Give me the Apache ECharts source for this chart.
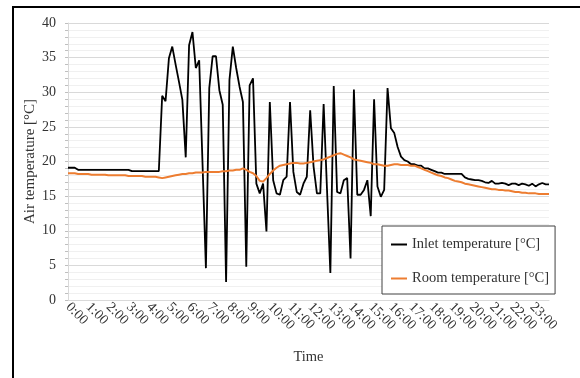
<!DOCTYPE html>
<html>
<head>
<meta charset="utf-8">
<script src="https://cdn.jsdelivr.net/npm/echarts@6/dist/echarts.min.js"></script>
<style>
  html, body { margin: 0; padding: 0; background: #fff; }
  #chart { width: 580px; height: 378px; }
</style>
</head>
<body>
<div id="chart"></div>
<script>
// 10-minute readings over one day
const hours = Array.from({ length: 24 }, (_, h) => h);
const minutes = ['00', '10', '20', '30', '40', '50'];
const times = [];
hours.forEach(h => minutes.forEach(m => times.push(h + ':' + m)));

const inletTemp = [
  19.1, 19.1, 19.1, 18.8, 18.8, 18.8, 18.8, 18.8, 18.8, 18.8,
  18.8, 18.8, 18.8, 18.8, 18.8, 18.8, 18.8, 18.8, 18.8, 18.6,
  18.6, 18.6, 18.6, 18.6, 18.6, 18.6, 18.6, 18.6, 29.5, 28.7,
  34.9, 36.6, 34.0, 31.5, 28.9, 20.6, 36.8, 38.7, 33.5, 34.6,
  19.6, 4.6, 30.6, 35.2, 35.2, 30.3, 28.2, 2.6, 31.8, 36.6,
  33.5, 30.8, 28.6, 4.8, 31.0, 32.0, 16.8, 15.4, 16.8, 9.9,
  28.6, 17.3, 15.4, 15.2, 17.3, 17.8, 28.6, 18.5, 15.6, 15.2,
  16.8, 17.8, 27.4, 19.3, 15.4, 15.4, 28.3, 16.0, 3.9, 30.9,
  15.6, 15.4, 17.3, 17.6, 6.0, 30.4, 15.2, 15.2, 15.9, 17.3,
  12.1, 29.0, 16.4, 14.9, 15.9, 30.6, 24.8, 24.1, 22.1, 20.7,
  20.2, 20.0, 19.6, 19.6, 19.4, 19.4, 19.0, 19.0, 18.8, 18.6,
  18.4, 18.4, 18.2, 18.2, 18.2, 18.2, 18.2, 18.2, 17.7, 17.5,
  17.4, 17.3, 17.3, 17.2, 17.0, 16.9, 17.2, 16.8, 16.8, 16.9,
  16.8, 16.6, 16.8, 16.8, 16.6, 16.8, 16.7, 16.5, 16.8, 16.4,
  16.7, 16.9, 16.7, 16.7
];

const roomTemp = [
  18.3, 18.3, 18.3, 18.2, 18.2, 18.2, 18.2, 18.1, 18.1, 18.1,
  18.1, 18.1, 18.0, 18.0, 18.0, 18.0, 18.0, 18.0, 17.9, 17.9,
  17.9, 17.9, 17.9, 17.8, 17.8, 17.8, 17.8, 17.7, 17.6, 17.7,
  17.8, 17.9, 18.0, 18.1, 18.2, 18.2, 18.3, 18.3, 18.4, 18.4,
  18.4, 18.5, 18.5, 18.5, 18.5, 18.5, 18.6, 18.6, 18.7, 18.7,
  18.8, 18.8, 19.0, 18.8, 18.5, 18.3, 17.9, 17.2, 17.1, 17.6,
  18.2, 18.7, 19.1, 19.4, 19.5, 19.6, 19.7, 19.8, 19.8, 19.7,
  19.7, 19.8, 19.9, 20.0, 20.1, 20.2, 20.3, 20.5, 20.7, 20.9,
  21.1, 21.2, 21.0, 20.8, 20.6, 20.3, 20.2, 20.1, 20.0, 19.9,
  19.8, 19.6, 19.6, 19.5, 19.4, 19.4, 19.5, 19.6, 19.6, 19.5,
  19.5, 19.5, 19.4, 19.4, 19.2, 19.0, 18.8, 18.6, 18.4, 18.2,
  18.0, 17.9, 17.7, 17.6, 17.4, 17.2, 17.1, 17.0, 16.8, 16.7,
  16.6, 16.5, 16.4, 16.3, 16.2, 16.1, 16.0, 16.0, 15.9, 15.9,
  15.8, 15.8, 15.7, 15.6, 15.6, 15.5, 15.5, 15.4, 15.4, 15.4,
  15.3, 15.3, 15.3, 15.3
];

const FONT = '"Liberation Serif", serif';
const TEXT = '#333';

const chart = echarts.init(document.getElementById('chart'));

chart.setOption({
  animation: false,
  backgroundColor: '#fff',
  textStyle: { fontFamily: FONT },
  graphic: [{
    type: 'rect',
    shape: { x: 13, y: 7, width: 620, height: 420 },
    style: { fill: 'none', stroke: '#000', lineWidth: 2 },
    silent: true
  }],
  grid: { left: 68, right: 31, top: 23, bottom: 78 },
  legend: {
    orient: 'vertical',
    left: 382,
    top: 226,
    padding: [11, 6, 8, 9],
    itemGap: 19,
    itemWidth: 16,
    itemHeight: 2,
    icon: 'rect',
    backgroundColor: '#fff',
    borderColor: '#404040',
    borderWidth: 1,
    borderRadius: 0,
    textStyle: { fontFamily: FONT, fontSize: 14.5, color: TEXT },
    data: ['Inlet temperature [°C]', 'Room temperature [°C]']
  },
  xAxis: {
    type: 'category',
    data: times,
    boundaryGap: false,
    name: 'Time',
    nameLocation: 'middle',
    nameGap: 50,
    nameTextStyle: { fontFamily: FONT, fontSize: 14.5, color: TEXT },
    axisLine: { lineStyle: { color: '#d9d9d9', width: 1 } },
    axisTick: { show: false },
    axisLabel: {
      interval: 5,
      rotate: -45,
      margin: 5,
      fontFamily: FONT,
      fontSize: 14,
      color: TEXT
    },
    splitLine: { show: false }
  },
  yAxis: {
    type: 'value',
    min: 0,
    max: 40,
    interval: 5,
    name: 'Air temperature [°C]',
    nameLocation: 'middle',
    nameRotate: 90,
    nameGap: 30,
    nameMoveOverlap: false,
    nameTextStyle: { fontFamily: FONT, fontSize: 15, color: TEXT },
    axisLine: { show: true, lineStyle: { color: '#d9d9d9' } },
    axisTick: { show: true, length: 3, lineStyle: { color: '#bfbfbf' } },
    minorTick: { show: true, splitNumber: 5, length: 3, lineStyle: { color: '#bfbfbf' } },
    axisLabel: { margin: 12, fontFamily: FONT, fontSize: 14, color: TEXT },
    splitLine: { lineStyle: { color: '#d9d9d9', width: 1 } },
    minorSplitLine: { show: true, lineStyle: { color: '#f0f0f0', width: 1 } }
  },
  series: [
    {
      name: 'Inlet temperature [°C]',
      type: 'line',
      data: inletTemp,
      showSymbol: false,
      symbol: 'none',
      color: '#000',
      lineStyle: { color: '#000', width: 1.8 }
    },
    {
      name: 'Room temperature [°C]',
      type: 'line',
      data: roomTemp,
      showSymbol: false,
      symbol: 'none',
      color: '#ed7d31',
      lineStyle: { color: '#ed7d31', width: 2 }
    }
  ]
});
</script>
</body>
</html>
